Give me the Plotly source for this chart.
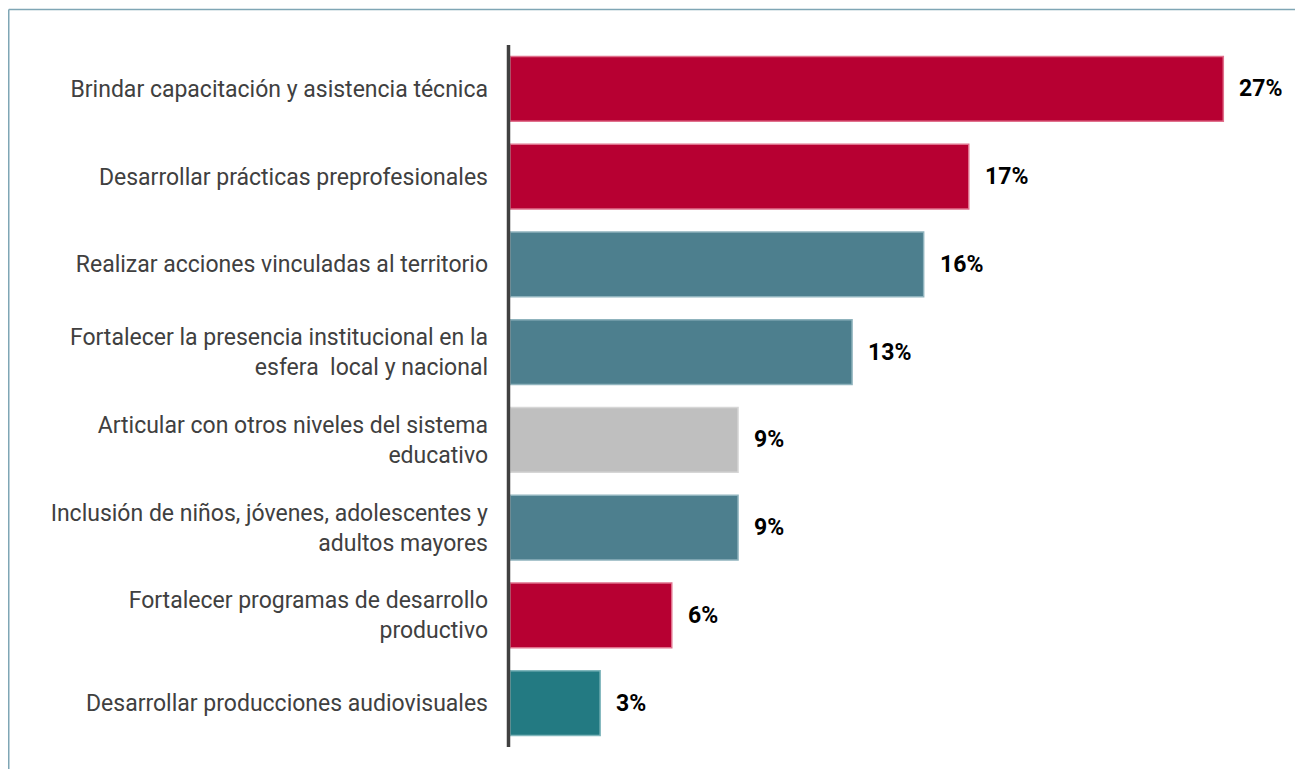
import plotly.graph_objects as go

categorias = [
    "Brindar capacitación y asistencia técnica",
    "Desarrollar prácticas preprofesionales",
    "Realizar acciones vinculadas al territorio",
    "Fortalecer la presencia institucional en la<br>esfera  local y nacional",
    "Articular con otros niveles del sistema<br>educativo",
    "Inclusión de niños, jóvenes, adolescentes y<br>adultos mayores",
    "Fortalecer programas de desarrollo<br>productivo",
    "Desarrollar producciones audiovisuales",
]
valores = [26.9, 17.3, 15.6, 12.9, 8.6, 8.6, 6.1, 3.4]
etiquetas = ["27%", "17%", "16%", "13%", "9%", "9%", "6%", "3%"]
colores = ["#B70032", "#B70032", "#4D7F8E", "#4D7F8E", "#BFBFBF", "#4D7F8E", "#B70032", "#237A82"]
bordes = ["#E0708C", "#E0708C", "#8FB3BD", "#8FB3BD", "#D6D6D6", "#8FB3BD", "#E0708C", "#7FB6BB"]

# la página deja 8px de margen alrededor del gráfico
W, H = 1295, 761
ML, MR, MT, MB = 502, 24, 37, 22
pw = W - ML - MR
ph = H - MT - MB

fig = go.Figure()
fig.add_trace(go.Bar(
    x=valores, y=categorias, orientation="h",
    marker=dict(color=colores, line=dict(color=bordes, width=1.5)),
    hoverinfo="skip",
))

for v, c, t in zip(valores, categorias, etiquetas):
    fig.add_annotation(x=v, y=c, text=f"<b>{t}</b>", showarrow=False,
                       xanchor="left", xshift=14,
                       font=dict(family="Roboto", size=23, color="#000000"))

# eje vertical
ex = -1.5 / pw
fig.add_shape(type="line", xref="paper", yref="paper", x0=ex, x1=ex, y0=0, y1=1,
              line=dict(color="#404040", width=3.5))

# marco exterior
fx0 = (0.75 - ML) / pw
fy1 = 1 + (MT - 1.5) / ph
fig.add_shape(type="line", xref="paper", yref="paper", x0=fx0, x1=fx0, y0=-1, y1=fy1,
              line=dict(color="#7FA6B5", width=1.5))
fig.add_shape(type="line", xref="paper", yref="paper", x0=fx0, x1=1.2, y0=fy1, y1=fy1,
              line=dict(color="#7FA6B5", width=1.5))

fig.update_layout(
    width=W, height=H,
    margin=dict(l=ML, r=MR, t=MT, b=MB),
    paper_bgcolor="white", plot_bgcolor="white",
    bargap=0.26, showlegend=False,
    font=dict(family="Roboto", size=23, color="#404040"),
    xaxis=dict(range=[0, 29], visible=False, fixedrange=True),
    yaxis=dict(autorange="reversed", showgrid=False, showline=False, ticks="",
               ticklabelstandoff=21, tickfont=dict(size=23, color="#404040")),
)

fig.write_html("out.html")
